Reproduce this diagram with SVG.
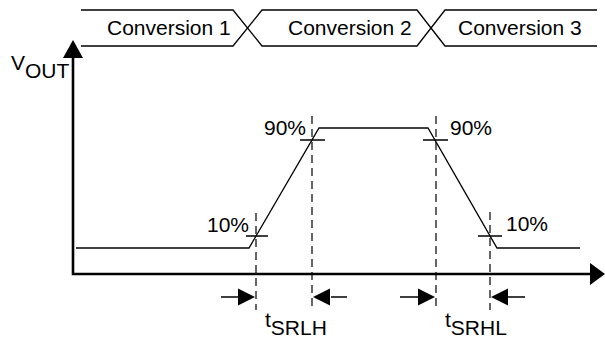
<svg xmlns="http://www.w3.org/2000/svg" width="605" height="338" viewBox="0 0 605 338">
<style>
.t{font-family:"Liberation Sans",Arial,sans-serif;font-size:21px;fill:#000}
.ln{stroke:#000;stroke-width:1.3;fill:none}
.ax{stroke:#000;stroke-width:2.6;fill:none}
.ds{stroke:#000;stroke-width:1.2;stroke-dasharray:8,5;fill:none}
.ar{fill:#000;stroke:none}
</style>
<rect width="605" height="338" fill="#fff"/>
<g id="bus">
<path class="ln" d="M81,10 H233 L262,46 H417 L445,10 H597"/>
<path class="ln" d="M81,46 H233 L262,10 H417 L445,46 H597"/>
<text class="t" x="107" y="35">Conversion 1</text>
<text class="t" x="288" y="35">Conversion 2</text>
<text class="t" x="458" y="35">Conversion 3</text>
</g>
<g id="axes">
<path class="ax" d="M73,56 V274 H591"/>
<polygon class="ar" points="73,40 63,58 83,58"/>
<polygon class="ar" points="605,274 590,263 590,285"/>
<text class="t" x="11" y="70">V<tspan dy="8">OUT</tspan></text>
</g>
<g id="waveform">
<path class="ln" d="M76,248 H249 L319,128 H428 L497,248 H580"/>
</g>
<g id="markers">
<path class="ds" d="M256,213 V310 M312,116 V310 M436,116 V310 M490,212 V310"/>
<path class="ln" d="M246,236 H268 M300,140 H325 M423,140 H448 M478,236 H502"/>
<text class="t" x="207" y="232">10%</text>
<text class="t" x="264" y="135">90%</text>
<text class="t" x="450" y="135">90%</text>
<text class="t" x="506" y="231">10%</text>
</g>
<g id="connectors">
<path class="ln" d="M221,297 H240 M331,297 H347 M400,297 H419 M507,297 H525"/>
<polygon class="ar" points="255,297 238,288.5 238,305.5"/>
<polygon class="ar" points="313,297 330,288.5 330,305.5"/>
<polygon class="ar" points="435,297 418,288.5 418,305.5"/>
<polygon class="ar" points="491,297 508,288.5 508,305.5"/>
</g>
<g id="labels">
<text class="t" x="265" y="327">t<tspan dy="8">SRLH</tspan></text>
<text class="t" x="445" y="327">t<tspan dy="8">SRHL</tspan></text>
</g>
</svg>
